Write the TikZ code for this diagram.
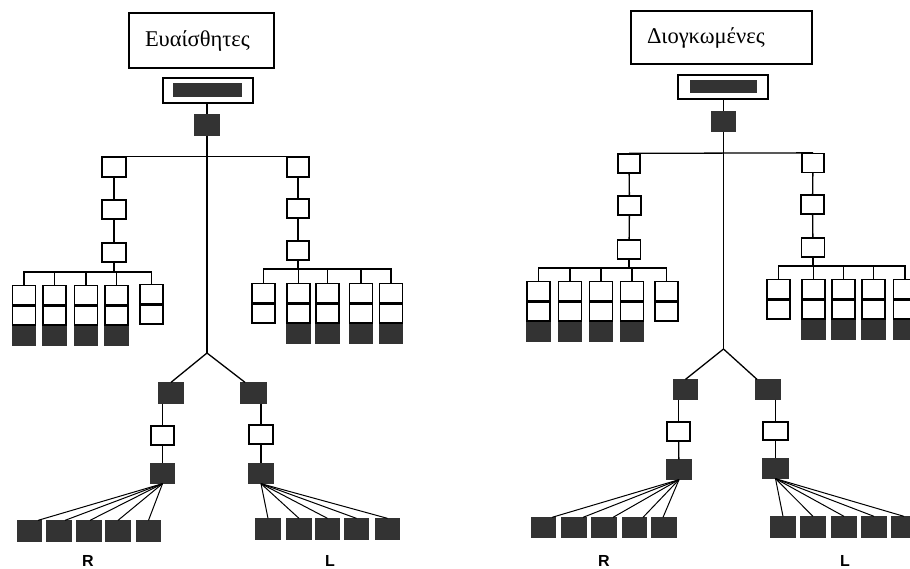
\documentclass[tikz,border=0pt]{standalone}
\usepackage{fontspec}
\setmainfont{Liberation Serif}
\newfontfamily\labfont{Liberation Sans}
\definecolor{dk}{gray}{0.2}
\newcommand\cellstack[5]{% name, x, ytop, ncells white, dark(1/0)
  \node[wb, anchor=north] (#1-a) at (#2,#3) {};
  \node[wb, anchor=north] (#1-b) at (#1-a.south) {};
  \ifnum#5=1 \node[db, anchor=north] (#1-c) at (#1-b.south) {};\fi
}
\tikzset{
  ln/.style={line width=1.3pt, draw=black},
  wb/.style={draw=black, fill=white, line width=1.3pt, inner sep=0pt, minimum width=23pt, minimum height=19pt},
  db/.style={wb, fill=dk, draw=dk},
  titlebox/.style={draw=black, line width=1.3pt, inner xsep=16pt, inner ysep=0pt, align=left, font=\fontsize{22.5}{26}\selectfont},
  barbox/.style={draw=black, line width=1.3pt, inner sep=0pt, minimum width=90pt},
  barin/.style={fill=dk, inner sep=0pt},
  lab/.style={font=\labfont\bfseries\fontsize{16}{18}\selectfont, anchor=base, inner sep=0pt},
}
\begin{document}
\begin{tikzpicture}[x=1pt,y=-1pt]
\useasboundingbox[fill=white] (0,0) rectangle (910,568);

% ================= Left diagram =================
\node[titlebox, text width=113pt, minimum height=55pt] (aT) at (201.5,40.5) {Ευαίσθητες};
\node[barbox, minimum height=25pt] (aB) at (208,90.5) {};
\node[barin, minimum width=69pt, minimum height=14pt] (aBi) at (207.5,90) {};
\node[db, minimum width=24pt, minimum height=20pt] (aS) at (207,125) {};
\coordinate (aA) at (207,353);
\draw[ln] (aS.north |- aB.south) -- (aS.north);
\draw[ln] (aS.south) -- (aA);

\node[wb, minimum width=24pt, minimum height=20pt] (aL1) at (114,167) {};
\node[wb, minimum width=24pt] (aL2) at (114,209.5) {};
\node[wb, minimum width=24pt] (aL3) at (114,252.5) {};
\node[wb, minimum width=22pt, minimum height=20pt] (aR1) at (298,167) {};
\node[wb, minimum width=22pt] (aR2) at (298,208.5) {};
\node[wb, minimum width=22pt] (aR3) at (298,250.5) {};
\draw[ln] (aL1.north) -- (aR1.north);
\draw[ln] (aL1) -- (aL2) -- (aL3);
\draw[ln] (aR1) -- (aR2) -- (aR3);

\cellstack{aLs1}{24}{285}{2}{1}
\cellstack{aLs2}{54.5}{285}{2}{1}
\cellstack{aLs3}{86}{285}{2}{1}
\cellstack{aLs4}{116.5}{285}{2}{1}
\cellstack{aLs5}{151.5}{284}{2}{0}
\coordinate (aLbar) at (0,272);
\draw[ln] (aL3) -- (aL3 |- aLbar);
\draw[ln] (aLs1-a.north) -- (aLs1-a.north |- aLbar) -- (aLs5-a.north |- aLbar) -- (aLs5-a.north);
\foreach \k in {2,3,4} \draw[ln] (aLs\k-a.north) -- (aLs\k-a.north |- aLbar);

\cellstack{aRs1}{263.5}{283}{2}{0}
\cellstack{aRs2}{298.5}{283}{2}{1}
\cellstack{aRs3}{327.5}{283}{2}{1}
\cellstack{aRs4}{361}{283}{2}{1}
\cellstack{aRs5}{391}{283}{2}{1}
\coordinate (aRbar) at (0,269);
\draw[ln] (aR3) -- (aR3 |- aRbar);
\draw[ln] (aRs1-a.north) -- (aRs1-a.north |- aRbar) -- (aRs5-a.north |- aRbar) -- (aRs5-a.north);
\foreach \k in {2,3,4} \draw[ln] (aRs\k-a.north) -- (aRs\k-a.north |- aRbar);

\node[db, minimum width=24pt, minimum height=20pt] (aD1) at (171,393) {};
\node[db, minimum width=25pt, minimum height=20pt] (aD2) at (253.5,393) {};
\draw[ln] (aA) -- (aD1.north);
\draw[ln] (aA) -- ([xshift=-8.5pt]aD2.north);
\node[wb] (aW1) at (162.5,435.5) {};
\node[db] (aE1) at (162.5,473.5) {};
\node[wb, minimum width=24pt] (aW2) at (261,434.5) {};
\node[db, minimum width=24pt] (aE2) at (261,473.5) {};
\draw[ln] (aW1.north |- aD1.south) -- (aW1.north);
\draw[ln] (aW1) -- (aE1);
\draw[ln] (aW2.north |- aD2.south) -- (aW2.north);
\draw[ln] (aW2) -- (aE2);

\foreach \k/\x/\o in {1/29.5/8.5, 2/59/6, 3/89/1, 4/118/0, 5/148.5/0}{
  \node[db, minimum width=24pt, minimum height=20pt] (aF\k) at (\x,531) {};
  \draw[ln, line width=1pt] (aE1.south) -- ([xshift=\o pt]aF\k.north);
}
\foreach \k/\x in {1/268, 2/299, 3/327.5, 4/356.5, 5/387.5}{
  \node[db, minimum width=24pt, minimum height=20pt] (aG\k) at (\x,529) {};
  \draw[ln, line width=1pt] (aE2.south) -- (aG\k.north);
}
\node[lab] (aRl) at (88,566) {R};
\node[lab] (aLl) at (330,566) {L};

% ================= Right diagram =================
\node[titlebox, text width=149pt, minimum height=53pt] (bT) at (721.5,37.5) {Διογκωμένες};
\node[barbox, minimum height=24pt] (bB) at (723,87) {};
\node[barin, minimum width=67pt, minimum height=13pt] (bBi) at (723.5,86.5) {};
\node[db, minimum width=24pt, minimum height=19pt] (bS) at (723.5,121.5) {};
\coordinate (bA) at (723.5,349);
\draw[ln] (bS.north |- bB.south) -- (bS.north);
\draw[ln] (bS.south) -- (bA);

\node[wb, minimum width=22pt] (bL1) at (629,163.5) {};
\node[wb, minimum width=23pt] (bL2) at (629.5,205.5) {};
\node[wb, minimum width=23pt] (bL3) at (629,249.5) {};
\node[wb, minimum width=22pt] (bR1) at (813,163) {};
\node[wb, minimum width=23pt] (bR2) at (812.5,204.5) {};
\node[wb, minimum width=23pt] (bR3) at (813,247.5) {};
\draw[ln] (bL1.north) -- (bR1.north);
\draw[ln] (bL1) -- (bL2) -- (bL3);
\draw[ln] (bR1) -- (bR2) -- (bR3);

\cellstack{bLs1}{538.5}{281}{2}{1}
\cellstack{bLs2}{570}{281}{2}{1}
\cellstack{bLs3}{601}{281}{2}{1}
\cellstack{bLs4}{632}{281}{2}{1}
\cellstack{bLs5}{666.5}{281}{2}{0}
\coordinate (bLbar) at (0,268);
\draw[ln] (bL3) -- (bL3 |- bLbar);
\draw[ln] (bLs1-a.north) -- (bLs1-a.north |- bLbar) -- (bLs5-a.north |- bLbar) -- (bLs5-a.north);
\foreach \k in {2,3,4} \draw[ln] (bLs\k-a.north) -- (bLs\k-a.north |- bLbar);

\cellstack{bRs1}{778.5}{279}{2}{0}
\cellstack{bRs2}{813.5}{279}{2}{1}
\cellstack{bRs3}{843.5}{279}{2}{1}
\cellstack{bRs4}{873.5}{279}{2}{1}
\cellstack{bRs5}{905}{279}{2}{1}
\coordinate (bRbar) at (0,266);
\draw[ln] (bR3) -- (bR3 |- bRbar);
\draw[ln] (bRs1-a.north) -- (bRs1-a.north |- bRbar) -- (bRs5-a.north |- bRbar) -- (bRs5-a.north);
\foreach \k in {2,3,4} \draw[ln] (bRs\k-a.north) -- (bRs\k-a.north |- bRbar);

\node[db] (bD1) at (685.5,389.5) {};
\node[db, minimum width=24pt] (bD2) at (768,389.5) {};
\draw[ln] (bA) -- (bD1.north);
\draw[ln] (bA) -- ([xshift=-11pt]bD2.north);
\node[wb] (bW1) at (678.5,431.5) {};
\node[db, minimum width=24pt] (bE1) at (679,469.5) {};
\node[wb, minimum width=25pt, minimum height=18pt] (bW2) at (775.5,431) {};
\node[db, minimum width=25pt] (bE2) at (775.5,468.5) {};
\draw[ln] (bW1.north |- bD1.south) -- (bW1.north);
\draw[ln] (bW1) -- (bE1);
\draw[ln] (bW2.north |- bD2.south) -- (bW2.north);
\draw[ln] (bW2) -- (bE2);

\foreach \k/\x/\o in {1/543.5/8.5, 2/574/9, 3/604/9, 4/634.5/8.5, 5/664/-1}{
  \node[db, minimum width=24pt, minimum height=19pt] (bF\k) at (\x,527.5) {};
  \draw[ln, line width=1pt] (bE1.south) -- ([xshift=\o pt]bF\k.north);
}
\foreach \k/\x in {1/783, 2/813, 3/844, 4/874, 5/904}{
  \node[db, minimum width=24pt, minimum height=20pt] (bG\k) at (\x,527) {};
  \draw[ln, line width=1pt] (bE2.south) -- (bG\k.north);
}
\node[lab] (bRl) at (604,566) {R};
\node[lab] (bLl) at (845,566) {L};
\end{tikzpicture}
\end{document}
